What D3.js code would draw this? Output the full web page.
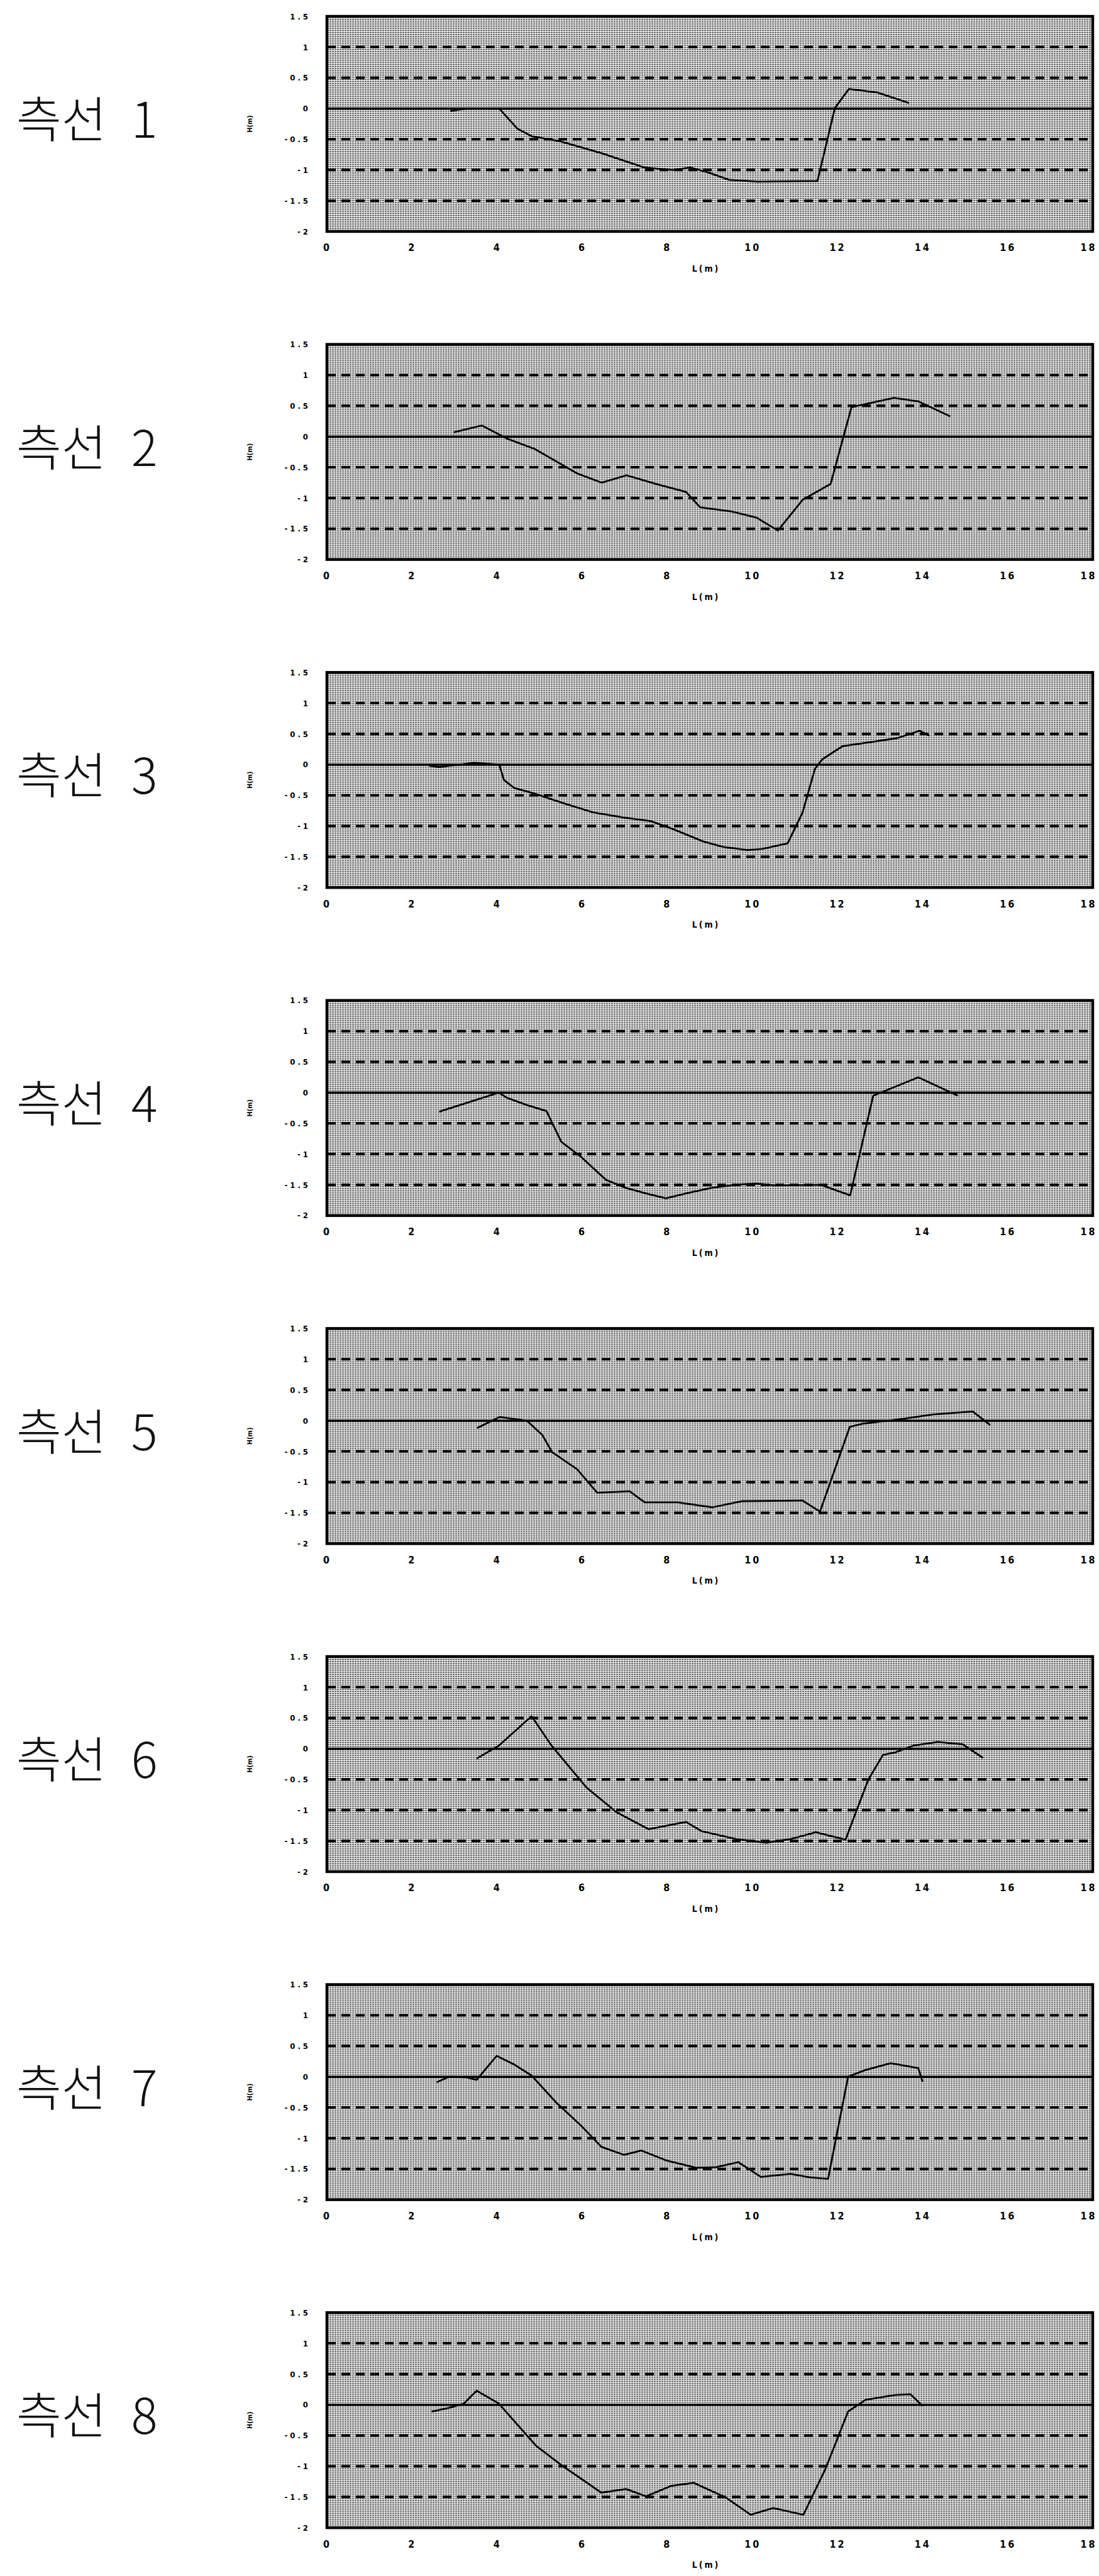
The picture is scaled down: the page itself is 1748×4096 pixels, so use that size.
<!DOCTYPE html>
<html>
<head>
<meta charset="utf-8">
<script src="https://cdn.jsdelivr.net/npm/d3@7"></script>
<style>
  body { margin: 0; background: #fff; }
  svg { display: block; }
</style>
</head>
<body>
<div id="chart"></div>
<script>
// tick values shared by every panel
const xTicks = [0, 2, 4, 6, 8, 10, 12, 14, 16, 18];
const yTicks = [1.5, 1, 0.5, 0, -0.5, -1, -1.5, -2];
const dashedLevels = [1, 0.5, -0.5, -1, -1.5];
const panelNames = ['측선 1', '측선 2', '측선 3', '측선 4', '측선 5', '측선 6', '측선 7', '측선 8'];

// profiles: [L (m), H (m)]
const profile1 = [[2.9,-0.04],[3.3,0],[4.05,0],[4.48,-0.33],[4.81,-0.45],[5.47,-0.53],[6.47,-0.73],[7.46,-0.96],[8.13,-1.0],[8.54,-0.96],[8.96,-1.04],[9.45,-1.16],[10.12,-1.19],[11.53,-1.18],[11.94,0.01],[12.27,0.32],[12.94,0.26],[13.68,0.09]];
const profile2 = [[2.98,0.07],[3.64,0.18],[4.22,-0.03],[4.88,-0.2],[5.88,-0.6],[6.46,-0.75],[7.04,-0.63],[7.78,-0.78],[8.44,-0.9],[8.77,-1.15],[9.52,-1.22],[10.1,-1.32],[10.6,-1.53],[11.18,-1.03],[11.84,-0.77],[12.33,0.48],[13.33,0.63],[13.91,0.57],[14.65,0.33]];
const profile3 = [[2.4,-0.02],[2.64,-0.04],[3.46,0.03],[4.05,0],[4.16,-0.25],[4.4,-0.38],[4.87,-0.47],[5.57,-0.63],[6.27,-0.78],[6.97,-0.86],[7.61,-0.92],[8.14,-1.05],[8.84,-1.25],[9.31,-1.34],[9.89,-1.39],[10.25,-1.37],[10.83,-1.28],[11.18,-0.78],[11.47,-0.07],[11.65,0.09],[12.12,0.3],[12.82,0.37],[13.4,0.43],[13.93,0.55],[14.16,0.47]];
const profile4 = [[2.64,-0.31],[4.04,0],[4.22,-0.08],[4.69,-0.2],[5.16,-0.3],[5.51,-0.8],[5.98,-1.05],[6.56,-1.42],[7.03,-1.55],[7.5,-1.64],[7.97,-1.72],[8.44,-1.64],[9.03,-1.55],[9.61,-1.5],[10.08,-1.48],[10.55,-1.51],[11.6,-1.5],[12.3,-1.67],[12.84,-0.05],[13.9,0.25],[14.83,-0.05]];
const profile5 = [[3.53,-0.12],[4.06,0.06],[4.7,0],[5.06,-0.23],[5.29,-0.51],[5.88,-0.79],[6.35,-1.17],[7.12,-1.15],[7.47,-1.33],[8.24,-1.33],[9.06,-1.41],[9.76,-1.31],[11.18,-1.3],[11.59,-1.48],[12.29,-0.1],[12.59,-0.05],[13.53,0.03],[14.24,0.1],[15.18,0.15],[15.59,-0.07]];
const profile6 = [[3.52,-0.16],[4.04,0.05],[4.81,0.53],[5.28,0.05],[6.1,-0.63],[6.8,-1.03],[7.56,-1.31],[8.44,-1.19],[8.8,-1.34],[9.61,-1.47],[10.32,-1.53],[10.9,-1.47],[11.49,-1.36],[12.19,-1.48],[12.72,-0.51],[13.07,-0.1],[13.36,-0.06],[13.78,0.05],[14.36,0.11],[14.95,0.07],[15.42,-0.15]];
const profile7 = [[2.58,-0.09],[2.87,0],[3.28,-0.01],[3.52,-0.05],[3.99,0.34],[4.4,0.2],[4.81,0.02],[5.39,-0.42],[5.98,-0.8],[6.45,-1.14],[6.98,-1.27],[7.39,-1.2],[7.97,-1.36],[8.68,-1.48],[9.15,-1.47],[9.67,-1.39],[10.2,-1.63],[10.9,-1.58],[11.37,-1.64],[11.78,-1.66],[12.25,0],[12.66,0.11],[13.25,0.22],[13.9,0.14],[14.0,-0.08]];
const profile8 = [[2.46,-0.11],[2.87,-0.05],[3.22,0.02],[3.52,0.23],[4.04,0.02],[4.92,-0.67],[5.51,-0.98],[6.45,-1.43],[7.03,-1.37],[7.5,-1.49],[8.09,-1.32],[8.62,-1.27],[9.38,-1.51],[9.96,-1.79],[10.49,-1.68],[11.2,-1.79],[11.72,-1.04],[12.25,-0.11],[12.66,0.08],[13.36,0.16],[13.72,0.17],[14.0,-0.02]];

const profiles = [profile1, profile2, profile3, profile4, profile5, profile6, profile7, profile8];

const W = 1748, H = 4096;
const plotLeft = 520, plotW = 1218, plotH = 342;
const top0 = 26, step = 521.6;

const svg = d3.select('#chart').append('svg')
  .attr('width', W).attr('height', H);

// halftone-ish grey fill of the scanned plot area
const defs = svg.append('defs');
const pat = defs.append('pattern')
  .attr('id', 'halftone')
  .attr('patternUnits', 'userSpaceOnUse')
  .attr('width', 4).attr('height', 3);
pat.append('rect').attr('width', 4).attr('height', 3).attr('fill', '#f2f2f2');
pat.append('rect').attr('x', 0).attr('y', 1).attr('width', 3).attr('height', 1.4).attr('fill', '#3a3a3a');

const x = d3.scaleLinear().domain([0, 18]).range([0, plotW]);
const y = d3.scaleLinear().domain([-2, 1.5]).range([plotH, 0]);

const line = d3.line()
  .x(d => x(d[0]))
  .y(d => y(d[1]));

const fmt = v => String(v);
const condensed = '"DejaVu Sans Condensed", "DejaVu Sans", sans-serif';

profiles.forEach((data, i) => {
  const top = top0 + i * step;
  const g = svg.append('g').attr('transform', `translate(${plotLeft},${top})`);

  // panel name
  svg.append('text')
    .attr('x', 26)
    .attr('y', top + 172)
    .attr('dominant-baseline', 'middle')
    .style('font-family', '"Noto Sans CJK KR", sans-serif')
    .style('font-weight', 300)
    .style('font-size', '78px')
    .style('word-spacing', '22px')
    .attr('fill', '#111')
    .text(panelNames[i]);

  g.append('rect')
    .attr('width', plotW).attr('height', plotH)
    .attr('fill', 'url(#halftone)');

  // dashed grid
  g.selectAll('line.grid')
    .data(dashedLevels)
    .join('line')
    .attr('class', 'grid')
    .attr('x1', 0).attr('x2', plotW)
    .attr('y1', d => y(d)).attr('y2', d => y(d))
    .attr('stroke', '#000')
    .attr('stroke-width', 4)
    .attr('stroke-dasharray', '14 9');

  // zero line
  g.append('line')
    .attr('x1', 0).attr('x2', plotW)
    .attr('y1', y(0)).attr('y2', y(0))
    .attr('stroke', '#000')
    .attr('stroke-width', 3.5);

  // frame
  g.append('rect')
    .attr('width', plotW).attr('height', plotH)
    .attr('fill', 'none')
    .attr('stroke', '#000')
    .attr('stroke-width', 4.5);

  // profile
  g.append('path')
    .datum(data)
    .attr('d', line)
    .attr('fill', 'none')
    .attr('stroke', '#000')
    .attr('stroke-width', 2.8)
    .attr('stroke-linejoin', 'round');

  // axes
  const ax = g.append('g')
    .attr('transform', `translate(0,${plotH})`)
    .call(d3.axisBottom(x).tickValues(xTicks).tickSize(0).tickPadding(20).tickFormat(fmt));
  ax.select('.domain').remove();
  ax.selectAll('text')
    .style('font-family', condensed)
    .style('font-weight', 'bold')
    .style('font-size', '16px')
    .style('letter-spacing', '3px')
    .attr('fill', '#000');
  // keep the last label inside the page
  ax.selectAll('.tick').filter(d => d === 18).select('text')
    .attr('text-anchor', 'end')
    .attr('dx', 6);

  const ay = g.append('g')
    .call(d3.axisLeft(y).tickValues(yTicks).tickSize(0).tickPadding(26).tickFormat(fmt));
  ay.select('.domain').remove();
  ay.selectAll('text')
    .style('font-family', condensed)
    .style('font-weight', 'bold')
    .style('font-size', '13px')
    .style('letter-spacing', '4px')
    .attr('fill', '#000');

  g.append('text')
    .attr('x', plotW / 2 - 6)
    .attr('y', plotH + 60)
    .attr('text-anchor', 'middle')
    .attr('dominant-baseline', 'middle')
    .style('font-family', condensed)
    .style('font-weight', 'bold')
    .style('font-size', '14px')
    .style('letter-spacing', '3px')
    .text('L(m)');

  g.append('text')
    .attr('transform', `translate(-122,${plotH / 2}) rotate(-90)`)
    .attr('text-anchor', 'middle')
    .attr('dominant-baseline', 'middle')
    .style('font-family', condensed)
    .style('font-weight', 'bold')
    .style('font-size', '11px')
    .text('H(m)');
});
</script>
</body>
</html>
